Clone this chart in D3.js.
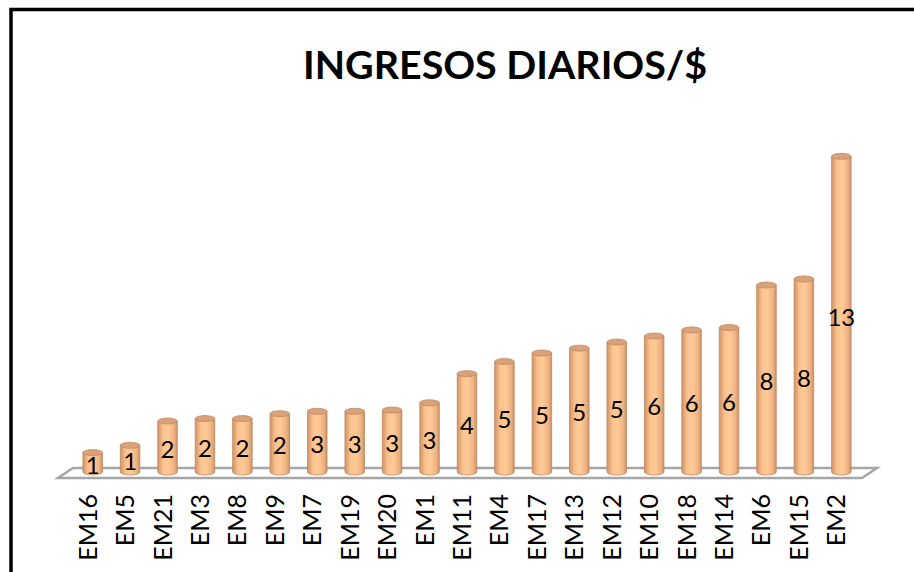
<!DOCTYPE html>
<html>
<head>
<meta charset="utf-8">
<script src="https://cdn.jsdelivr.net/npm/d3@7"></script>
<style>
  body { margin: 0; background: #fff; }
  text { font-family: Lato, "Open Sans", sans-serif; }
</style>
</head>
<body>
<div class="chart"></div>
<script>
// data
const categories = ["EM16", "EM5", "EM21", "EM3", "EM8", "EM9", "EM7", "EM19", "EM20", "EM1", "EM11",
    "EM4", "EM17", "EM13", "EM12", "EM10", "EM18", "EM14", "EM6", "EM15", "EM2"];
const values = [0.8, 1.1, 2.1, 2.2, 2.2, 2.4, 2.5, 2.5, 2.55, 2.85, 4.05,
    4.55, 4.9, 5.1, 5.35, 5.6, 5.85, 5.95, 7.7, 7.95, 13.0];
const title = "INGRESOS DIARIOS/$";

const width = 914, height = 572;

let svg = d3.select(".chart").append("svg")
    .attr("width", width)
    .attr("height", height);

// cylinder gradient
let defs = svg.append("defs");
let grad = defs.append("linearGradient")
    .attr("id", "cyl")
    .attr("x1", "0%").attr("x2", "100%")
    .attr("y1", "0%").attr("y2", "0%");
grad.append("stop").attr("offset", "0%").attr("stop-color", "#CF9266");
grad.append("stop").attr("offset", "28%").attr("stop-color", "#FBC28E");
grad.append("stop").attr("offset", "55%").attr("stop-color", "#FFCA97");
grad.append("stop").attr("offset", "85%").attr("stop-color", "#EDB180");
grad.append("stop").attr("offset", "100%").attr("stop-color", "#C98E63");

// outer frame (only left/top visible in the crop)
svg.append("rect")
    .attr("x", 11).attr("y", 9.5)
    .attr("width", 940).attr("height", 600)
    .attr("fill", "none")
    .attr("stroke", "#000")
    .attr("stroke-width", 3.5);

// title
svg.append("text")
    .attr("x", 505)
    .attr("y", 79)
    .attr("text-anchor", "middle")
    .attr("font-size", 39)
    .attr("font-weight", "bold")
    .attr("textLength", 404)
    .attr("lengthAdjust", "spacingAndGlyphs")
    .text(title);

// scales
let x = d3.scaleBand()
    .domain(categories)
    .range([65, 869])
    .padding(0.478);

let y = d3.scaleLinear()
    .domain([0, 14])
    .range([472, 132]);

// floor
let left = x.range()[0], right = x.range()[1], base = y(0);
svg.append("path")
    .attr("d", `M${left + 8},${base - 4} L${right + 8},${base - 4} L${right - 7},${base + 6} L${left - 7},${base + 6} Z`)
    .attr("fill", "#fff")
    .attr("stroke", "#A6A6A6")
    .attr("stroke-width", 2.5);

let ry = 3;
let bars = svg.selectAll(".bar")
    .data(categories.map((c, i) => ({cat: c, val: values[i]})))
    .enter()
    .append("g")
    .attr("class", "bar");

// body of the cylinder
bars.append("path")
    .attr("d", function (d) {
        let x0 = x(d.cat), w = x.bandwidth(), rx = w / 2;
        let top = y(d.val), bot = y(0);
        return `M${x0},${top} L${x0},${bot} A${rx},${ry} 0 0 0 ${x0 + w},${bot} L${x0 + w},${top} Z`;
    })
    .attr("fill", "url(#cyl)")
    .attr("stroke", "#C08A62")
    .attr("stroke-width", 0.8);

// top cap
bars.append("ellipse")
    .attr("cx", d => x(d.cat) + x.bandwidth() / 2)
    .attr("cy", d => y(d.val))
    .attr("rx", x.bandwidth() / 2)
    .attr("ry", ry)
    .attr("fill", "#D9A27A")
    .attr("stroke", "#C08A62")
    .attr("stroke-width", 0.8);

// value labels in the middle of each bar
bars.append("text")
    .attr("x", d => x(d.cat) + x.bandwidth() / 2)
    .attr("y", d => (y(d.val) + y(0)) / 2 + 3)
    .attr("dy", "0.35em")
    .attr("text-anchor", "middle")
    .attr("font-size", 24)
    .attr("fill", "#000")
    .text(d => Math.round(d.val));

// category labels, rotated
svg.selectAll(".cat")
    .data(categories)
    .enter()
    .append("text")
    .attr("class", "cat")
    .attr("transform", d => `translate(${x(d) + x.bandwidth() / 2 + 4},494) rotate(-90)`)
    .attr("text-anchor", "end")
    .attr("font-size", 25)
    .attr("fill", "#000")
    .text(d => d);
</script>
</body>
</html>
